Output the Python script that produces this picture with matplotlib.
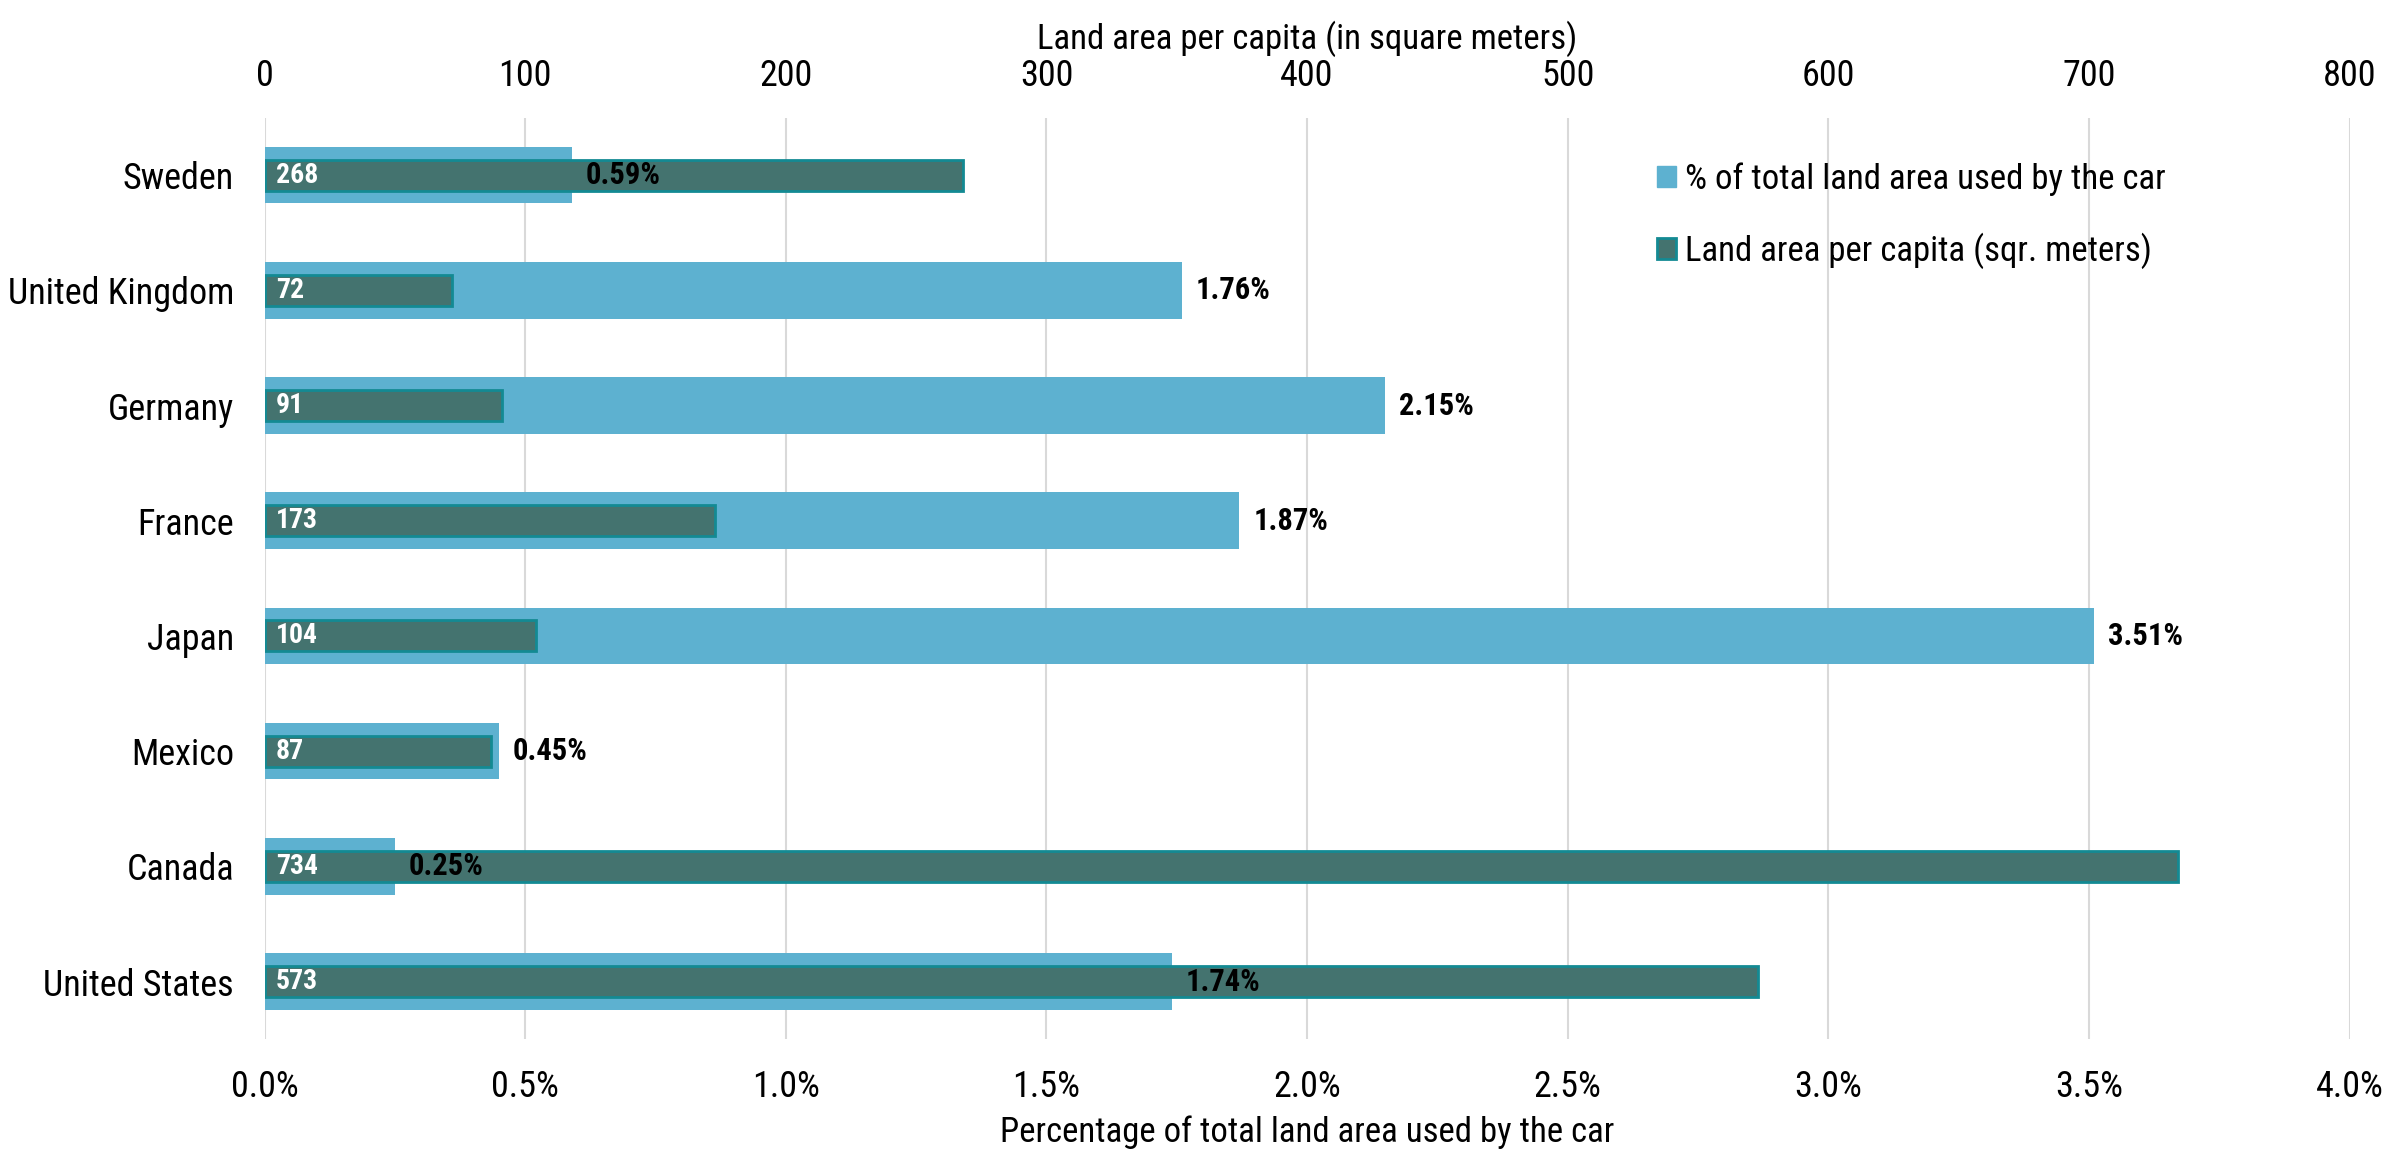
import matplotlib
matplotlib.use("Agg")
import matplotlib.pyplot as plt
from matplotlib.patches import Patch
from matplotlib.ticker import FuncFormatter

plt.rcParams['font.family'] = ['Roboto Condensed', 'Archivo Narrow', 'Liberation Sans', 'DejaVu Sans']

countries = ['Sweden', 'United Kingdom', 'Germany', 'France', 'Japan', 'Mexico', 'Canada', 'United States']
pct_land_car = [0.59, 1.76, 2.15, 1.87, 3.51, 0.45, 0.25, 1.74]
area_per_capita = [268, 72, 91, 173, 104, 87, 734, 573]

light = '#5DB1D0'
dark = '#44736F'
dark_edge = '#138A93'

fig = plt.figure(figsize=(23.97, 11.52), dpi=100)
ax = fig.add_axes([0.1104, 0.098, 0.8698, 0.800])
ax2 = ax.twiny()

y = list(range(len(countries)))

# light bars: percentage (bottom axis)
ax.barh(y, pct_land_car, height=0.49, color=light, zorder=2)
ax.set_xlim(0, 4.0)
ax.set_ylim(len(countries) - 0.5, -0.5)
ax.set_xticks([i * 0.5 for i in range(9)])
ax.xaxis.set_major_formatter(FuncFormatter(lambda v, p: f'{v:.1f}%'))
ax.set_yticks(y)
ax.set_yticklabels(countries)
ax.grid(axis='x', color='#D9D9D9', linewidth=1.5, zorder=0)
ax.set_axisbelow(True)
ax.tick_params(axis='x', length=0, labelsize=26, pad=21.5)
ax.tick_params(axis='y', length=0, labelsize=26, pad=22)
ax.set_xlabel('Percentage of total land area used by the car', fontsize=25, labelpad=7.5)

# dark bars: land area per capita (top axis)
ax2.barh(y, area_per_capita, height=0.27, color=dark, edgecolor=dark_edge, linewidth=2, zorder=3)
ax2.set_xlim(0, 800)
ax2.set_xticks(range(0, 801, 100))
ax2.tick_params(axis='x', length=0, labelsize=26, pad=17)
ax2.set_xlabel('Land area per capita (in square meters)', fontsize=25, labelpad=6.5)

for a in (ax, ax2):
    for s in a.spines.values():
        s.set_visible(False)

# data labels (both on the top axes so they sit above every bar)
for yi, p in zip(y, pct_land_car):
    ax2.annotate(f'{p:.2f}%', (p, yi), xycoords=ax.transData, xytext=(10, 0), textcoords='offset points',
                 va='center', ha='left', fontsize=22, fontweight='bold', color='black', zorder=5)
for yi, v in zip(y, area_per_capita):
    ax2.annotate(f'{v}', (0, yi), xytext=(8, 0), textcoords='offset points',
                 va='center', ha='left', fontsize=20, fontweight='bold', color='white', zorder=5)

handles = [Patch(facecolor=light, edgecolor=light),
           Patch(facecolor=dark, edgecolor=dark_edge, linewidth=2)]
labels = ['% of total land area used by the car', 'Land area per capita (sqr. meters)']
ax2.legend(handles, labels, loc='upper left', bbox_to_anchor=(0.653, 0.985), frameon=False,
           fontsize=25, handlelength=0.55, handleheight=0.55, handletextpad=0.25, labelspacing=1.05)

fig.savefig('out.png', dpi=100)
